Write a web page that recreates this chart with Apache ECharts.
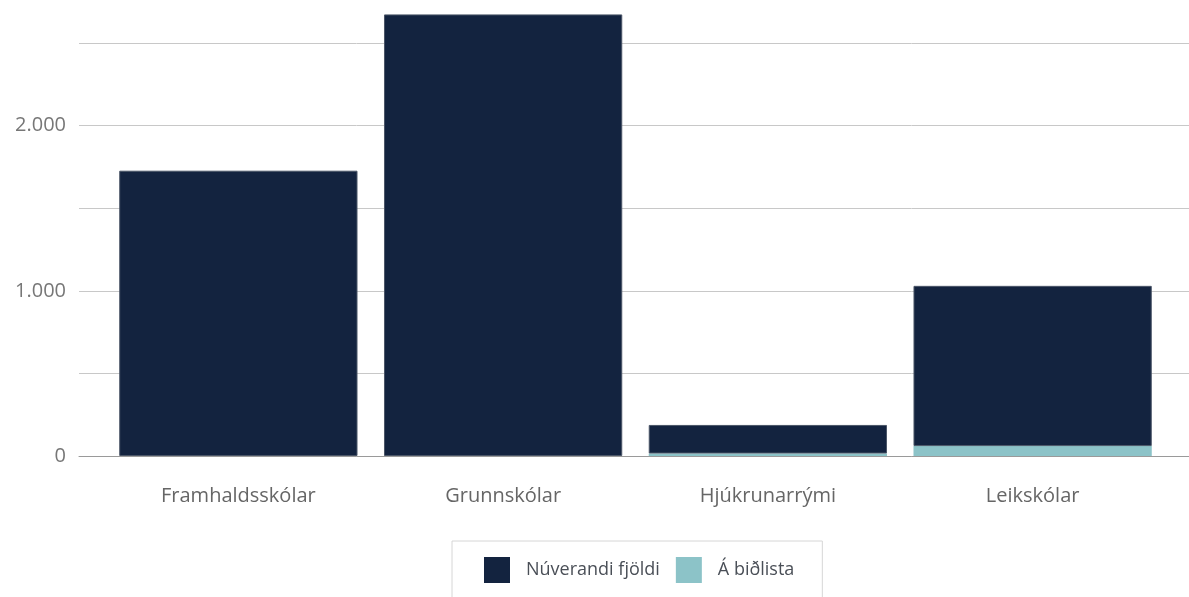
<!DOCTYPE html>
<html>
<head>
<meta charset="utf-8">
<script src="https://cdn.jsdelivr.net/npm/echarts@6/dist/echarts.min.js"></script>
<style>
  html, body { margin: 0; padding: 0; background: #fff; }
  #chart { width: 1189px; height: 597px; }
</style>
</head>
<body>
<div id="chart"></div>
<script>
    // gögn lesin af myndinni
    const categories = ['Framhaldsskólar', 'Grunnskólar', 'Hjúkrunarrými', 'Leikskólar'];
    const nuverandi = [1727, 2673, 173, 970];
    const bidlisti = [0, 0, 15, 60];
    const yTicks = [0, 500, 1000, 1500, 2000, 2500];

    function fmt(v) {
        return String(v).replace(/\B(?=(\d{3})+(?!\d))/g, '.');
    }

    const font = '"Open Sans", "Noto Sans", sans-serif';
    let myChart = echarts.init(document.getElementById('chart'));
    myChart.setOption({
        animation: false,
        textStyle: { fontFamily: font },
        legend: {
            data: ['Núverandi fjöldi', 'Á biðlista'],
            left: 452,
            top: 541,
            padding: [16, 28, 30, 32],
            borderColor: '#d6d6d6',
            borderWidth: 1,
            itemWidth: 26,
            itemHeight: 26,
            itemGap: 16,
            icon: 'rect',
            itemStyle: { borderWidth: 0 },
            textStyle: {
                color: '#4a4f57',
                fontSize: 18,
                fontFamily: font,
                padding: [0, 0, 0, 11]
            }
        },
        grid: [
            { left: 79, right: 0, top: 43, bottom: 141 },
            { left: 106, right: 24, top: 43, bottom: 141 }
        ],
        xAxis: [
            {
                gridIndex: 0,
                type: 'value',
                min: 0,
                max: 1,
                axisLabel: { show: false },
                axisTick: { show: false },
                splitLine: { show: false },
                axisLine: { show: true, lineStyle: { color: '#9a9a9a', width: 1 } }
            },
            {
                gridIndex: 1,
                type: 'category',
                data: categories,
                axisLine: { show: false },
                axisTick: { show: false },
                axisLabel: {
                    color: '#666',
                    fontSize: 20,
                    margin: 30,
                    fontFamily: font
                }
            }
        ],
        yAxis: [
            {
                gridIndex: 0,
                type: 'value',
                min: yTicks[0],
                max: yTicks[yTicks.length - 1],
                interval: 500,
                axisLine: { show: false },
                axisTick: { show: false },
                axisLabel: {
                    color: '#777',
                    fontSize: 20,
                    margin: 13,
                    fontFamily: font,
                    formatter: function (v) {
                        return v % 1000 === 0 ? fmt(v) : '';
                    }
                },
                splitLine: { lineStyle: { color: '#c8c8c8', width: 1 } }
            },
            {
                gridIndex: 1,
                type: 'value',
                min: yTicks[0],
                max: yTicks[yTicks.length - 1],
                show: false,
                splitLine: { show: false }
            }
        ],
        series: [
            {
                name: 'Á biðlista',
                type: 'bar',
                stack: 'a',
                xAxisIndex: 1,
                yAxisIndex: 1,
                data: bidlisti,
                barWidth: '90%',
                clip: false,
                itemStyle: { color: '#8cc3c8', borderWidth: 0 }
            },
            {
                name: 'Núverandi fjöldi',
                type: 'bar',
                stack: 'a',
                xAxisIndex: 1,
                yAxisIndex: 1,
                data: nuverandi,
                barWidth: '90%',
                clip: false,
                itemStyle: { color: '#13233f', borderColor: '#4b5668', borderWidth: 1 }
            }
        ]
    });
</script>
</body>
</html>
